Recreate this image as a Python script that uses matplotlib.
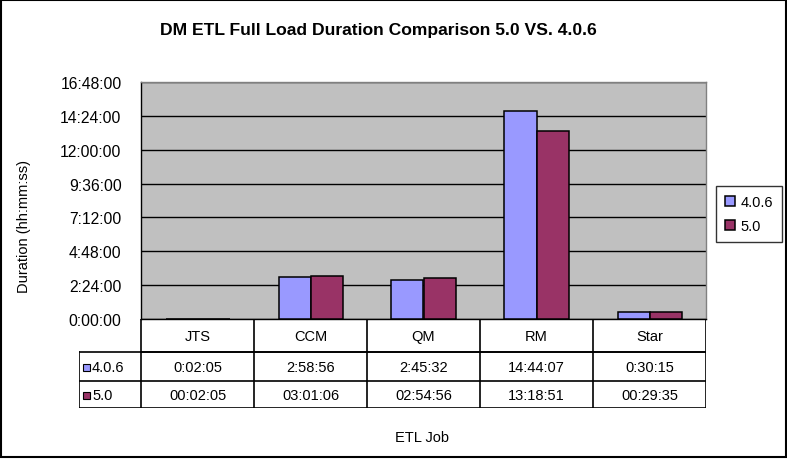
import matplotlib.pyplot as plt
from matplotlib.patches import Rectangle
from matplotlib.ticker import FixedLocator, FuncFormatter

plt.rcParams['font.family'] = ['Liberation Sans', 'DejaVu Sans']

# data
jobs = ['JTS', 'CCM', 'QM', 'RM', 'Star']
series_names = ['4.0.6', '5.0']
dur_406 = ['0:02:05', '2:58:56', '2:45:32', '14:44:07', '0:30:15']
dur_50 = ['00:02:05', '03:01:06', '02:54:56', '13:18:51', '00:29:35']
colors = ['#9999FF', '#993366']
ymax_h = 16.8
ystep_h = 2.4


def to_hours(s):
    h, m, sec = [int(p) for p in s.split(':')]
    return h + m / 60 + sec / 3600


def fmt_hms(v, pos=None):
    tot = int(round(v * 3600))
    return f'{tot // 3600}:{(tot % 3600) // 60:02d}:{tot % 60:02d}'


W, H = 787, 460
fig = plt.figure(figsize=(W / 100, H / 100), dpi=100)


def fx(px):
    return px / W


def fy(py):
    return 1 - py / H


# outer border
fig.patches.append(Rectangle((fx(1), fy(458)), fx(785), 457 / H, transform=fig.transFigure,
                             fill=False, edgecolor='black', linewidth=1.5))

# plot area
left, right, top, bottom = 141, 706, 83, 320
ax = fig.add_axes([fx(left), fy(bottom), fx(right - left), (bottom - top) / H])
ax.set_facecolor('#C0C0C0')
ax.set_xlim(0, len(jobs))
ax.set_ylim(0, ymax_h)
for s in ['top', 'right']:
    ax.spines[s].set_color('#808080')
    ax.spines[s].set_linewidth(1)
for s in ['left', 'bottom']:
    ax.spines[s].set_color('black')
    ax.spines[s].set_linewidth(1)
yt = [i * ystep_h for i in range(8)]
ax.yaxis.set_major_locator(FixedLocator(yt))
ax.yaxis.set_major_formatter(FuncFormatter(fmt_hms))
ax.set_xticks([])
ax.tick_params(axis='y', length=0, pad=14, labelsize=11.3)
ax.grid(axis='y', color='black', linewidth=1)
ax.set_axisbelow(True)

bw = 32 / 113
xs = [i + 0.5 for i in range(len(jobs))]
vals = [[to_hours(v) for v in dur_406], [to_hours(v) for v in dur_50]]
for k, (name, col) in enumerate(zip(series_names, colors)):
    off = -bw / 2 if k == 0 else bw / 2
    ax.bar([x + off for x in xs], vals[k], width=bw, color=col, edgecolor='black',
           linewidth=1.1, zorder=3, label=name)

# data table
tb = fig.add_axes([fx(79), fy(409), fx(right - 79), (409 - bottom) / H])
tb.set_xlim(-62 / 113, len(jobs))
tb.set_ylim(409, bottom)
tb.axis('off')
lw = 1.2
# header row
tb.plot([0, len(jobs)], [353, 353], color='black', lw=lw)
for i in range(len(jobs) + 1):
    tb.plot([i, i], [bottom, 409], color='black', lw=lw)
for i, j in enumerate(jobs):
    tb.text(i + 0.5, 337, j, ha='center', va='center', fontsize=10.5)
# data rows
lx = -62 / 113
tb.plot([lx, len(jobs)], [353, 353], color='black', lw=lw)
tb.plot([lx, len(jobs)], [382, 382], color='black', lw=lw)
tb.plot([lx, len(jobs)], [408.5, 408.5], color='black', lw=lw)
tb.plot([lx, lx], [353, 409], color='black', lw=lw)
rows_y = [368, 396]
for k, (name, col, labels) in enumerate(zip(series_names, colors, [dur_406, dur_50])):
    y = rows_y[k]
    tb.add_patch(Rectangle((lx + 4 / 113, y - 3.5), 7 / 113, 7, facecolor=col,
                           edgecolor='black', linewidth=0.8))
    tb.text(lx + 13 / 113, y, name, ha='left', va='center', fontsize=10.5)
    for i, s in enumerate(labels):
        tb.text(i + 0.5, y, s, ha='center', va='center', fontsize=10.5)

# legend
leg = ax.legend(loc='upper left', bbox_to_anchor=(fx(716), fy(187)),
                bbox_transform=fig.transFigure, frameon=True, fancybox=False,
                edgecolor='black', fontsize=10.5, handlelength=0.7, handleheight=0.7,
                handletextpad=0.4, borderpad=0.6, labelspacing=0.7, borderaxespad=0)
leg.get_frame().set_linewidth(1)

fig.text(fx(378), fy(31), 'DM ETL Full Load Duration Comparison 5.0 VS. 4.0.6',
         ha='center', va='center', fontsize=12.6, fontweight='bold')
fig.text(fx(24), fy(227), 'Duration (hh:mm:ss)', rotation=90, ha='center', va='center',
         fontsize=10.5)
fig.text(fx(422), fy(438), 'ETL Job', ha='center', va='center', fontsize=10.5)

fig.savefig('out.png', dpi=100)
